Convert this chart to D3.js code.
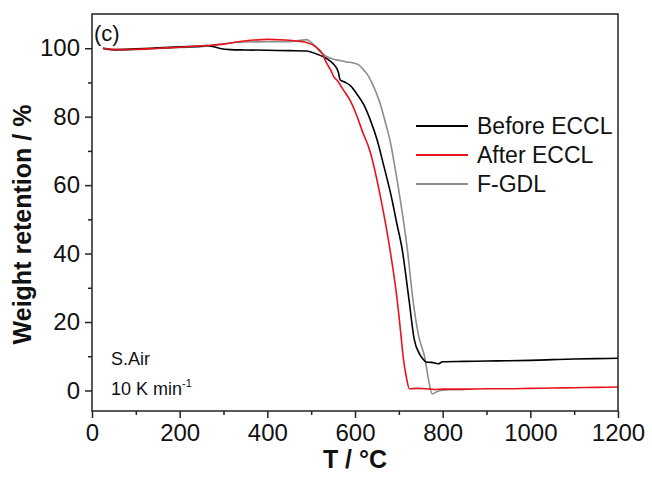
<!DOCTYPE html>
<html>
<head>
<meta charset="utf-8">
<script src="https://cdn.jsdelivr.net/npm/d3@7"></script>
<style>
  html, body { margin: 0; padding: 0; background: #fff; }
  svg { display: block; font-family: "Liberation Sans", Arial, sans-serif; }
</style>
</head>
<body>
<svg id="chart" width="652" height="489"></svg>
<script>
// TGA curves in synthetic air, 10 K/min: temperature (°C) vs weight retention (%)
const beforeT = [25, 50, 100, 150, 200, 250, 262, 275, 290, 316, 350, 400, 450, 490, 501, 515, 535, 550, 558, 562, 566, 575, 590, 605, 620, 635, 650, 665, 684, 695, 707, 723, 735, 748, 755, 762, 775, 790, 800, 850, 900, 950, 1000, 1050, 1100, 1150, 1200];
const beforeW = [100, 99.6, 99.8, 100.1, 100.4, 100.6, 100.8, 100.5, 100, 99.6, 99.5, 99.4, 99.3, 99.2, 98.8, 98.2, 97, 95.5, 94.2, 93, 90.8, 90.2, 89, 86.5, 83.5, 79, 73.4, 66, 56, 49, 41.7, 26.7, 15, 10.5, 9.2, 8.3, 8.2, 7.8, 8.4, 8.5, 8.6, 8.7, 8.8, 9, 9.2, 9.3, 9.4];

const afterT = [25, 56, 100, 150, 200, 262, 300, 330, 370, 400, 440, 475, 490, 510, 525, 535, 545, 551, 560, 573, 590, 605, 616, 634, 659, 680, 696, 705, 710, 717, 724, 740, 760, 780, 800, 850, 900, 950, 1000, 1050, 1100, 1150, 1200];
const afterW = [100, 99.6, 99.7, 100, 100.3, 100.8, 101.2, 101.8, 102.4, 102.6, 102.4, 102, 101.7, 100.5, 98.5, 95.7, 93.5, 91.8, 90.5, 87.9, 84.5, 80, 76, 70, 56, 41, 26.7, 16, 9.7, 4, 0.5, 0.6, 0.5, 0.3, 0.4, 0.4, 0.5, 0.5, 0.6, 0.7, 0.8, 0.9, 1.0];

const gdlT = [25, 56, 100, 150, 200, 262, 300, 350, 400, 450, 475, 490, 497, 510, 520, 535, 551, 566, 580, 596, 610, 620, 630, 640, 657, 672, 680, 690, 703, 719, 732, 745, 759, 768, 776, 785, 795, 820, 850];
const gdlW = [99.8, 99.4, 99.6, 99.9, 100.2, 100.6, 101.3, 101.8, 101.9, 101.9, 102.3, 102.5, 102, 100.5, 99, 97.6, 96.8, 96.4, 96, 95.7, 95, 93.6, 92, 89.5, 84, 77, 73, 66, 56, 41.7, 26.7, 16, 9.7, 3, -1, -0.5, 0, 0.2, 0.2];

const xTicks = [0, 200, 400, 600, 800, 1000, 1200];
const xMinor = [100, 300, 500, 700, 900, 1100];
const yTicks = [0, 20, 40, 60, 80, 100];
const yMinor = [10, 30, 50, 70, 90];

const seriesNames = ["Before ECCL", "After ECCL", "F-GDL"];
const seriesColors = ["#000000", "#e8141c", "#8c8c8c"];

const svg = d3.select("#chart");
const W = 652, H = 489;
const margin = { top: 14, right: 34, bottom: 78, left: 92 };
const iw = W - margin.left - margin.right;
const ih = H - margin.top - margin.bottom;

const x = d3.scaleLinear().domain([0, 1200]).range([0, iw]);
const y = d3.scaleLinear().domain([-6, 110]).range([ih, 0]);

const g = svg.append("g").attr("transform", `translate(${margin.left},${margin.top})`);

const axisColor = "#222";

// minor ticks
const xMinorAxis = g.append("g").attr("transform", `translate(0,${ih})`)
  .call(d3.axisBottom(x).tickValues(xMinor).tickSize(4).tickFormat(""));
const yMinorAxis = g.append("g")
  .call(d3.axisLeft(y).tickValues(yMinor).tickSize(4).tickFormat(""));

// major ticks
const xAxis = g.append("g").attr("transform", `translate(0,${ih})`)
  .call(d3.axisBottom(x).tickValues(xTicks).tickSize(7).tickPadding(6).tickFormat(d3.format("d")));
const yAxis = g.append("g")
  .call(d3.axisLeft(y).tickValues(yTicks).tickSize(7).tickPadding(5).tickFormat(d3.format("d")));

[xMinorAxis, yMinorAxis, xAxis, yAxis].forEach(a => {
  a.select(".domain").remove();
  a.selectAll(".tick line").attr("stroke", axisColor).attr("stroke-width", 1.5);
});
[xAxis, yAxis].forEach(a => {
  a.selectAll(".tick text")
    .attr("fill", "#111")
    .style("font-size", "24px")
    .style("font-family", "'Liberation Sans', Arial, sans-serif");
});

// series curves
const line = d3.line().x(d => x(d[0])).y(d => y(d[1])).curve(d3.curveMonotoneX);
g.append("clipPath").attr("id", "plotclip")
  .append("rect").attr("width", iw).attr("height", ih);

const series = [
  { T: gdlT, Wt: gdlW, color: seriesColors[2] },
  { T: beforeT, Wt: beforeW, color: seriesColors[0] },
  { T: afterT, Wt: afterW, color: seriesColors[1] }
];
const plot = g.append("g").attr("clip-path", "url(#plotclip)");
series.forEach(s => {
  plot.append("path")
    .datum(s.T.map((t, i) => [t, s.Wt[i]]))
    .attr("fill", "none")
    .attr("stroke", s.color)
    .attr("stroke-width", 1.6)
    .attr("stroke-linejoin", "round")
    .attr("d", line);
});

// frame
g.append("rect")
  .attr("width", iw).attr("height", ih)
  .attr("fill", "none").attr("stroke", axisColor).attr("stroke-width", 1.5);

// legend
const legend = g.append("g").attr("transform", `translate(${416 - margin.left},${126 - margin.top})`);
seriesNames.forEach((name, i) => {
  const row = legend.append("g").attr("transform", `translate(0,${i * 29})`);
  row.append("line").attr("x1", 0).attr("x2", 52).attr("y1", 0).attr("y2", 0)
    .attr("stroke", seriesColors[i]).attr("stroke-width", 2);
  row.append("text").attr("x", 61).attr("y", 0).attr("dy", "0.35em")
    .attr("fill", "#111").style("font-size", "23px").text(name);
});

// panel label and conditions
g.append("text").attr("x", 2).attr("y", 27).attr("fill", "#111")
  .style("font-size", "22px").text("(c)");
g.append("text").attr("x", 19).attr("y", 351).attr("fill", "#111")
  .style("font-size", "18px").text("S.Air");
const rate = g.append("text").attr("x", 19).attr("y", 381).attr("fill", "#111")
  .style("font-size", "18px");
rate.append("tspan").text("10 K min");
rate.append("tspan").attr("dy", -8).style("font-size", "11px").text("-1");

// axis titles
svg.append("text")
  .attr("x", margin.left + iw / 2).attr("y", 468)
  .attr("text-anchor", "middle").attr("fill", "#111")
  .style("font-size", "25px").style("font-weight", "bold")
  .text("T / °C");
svg.append("text")
  .attr("transform", `translate(31,${margin.top + ih / 2 + 12}) rotate(-90)`)
  .attr("text-anchor", "middle").attr("fill", "#111")
  .style("font-size", "25px").style("font-weight", "bold")
  .text("Weight retention / %");
</script>
</body>
</html>
